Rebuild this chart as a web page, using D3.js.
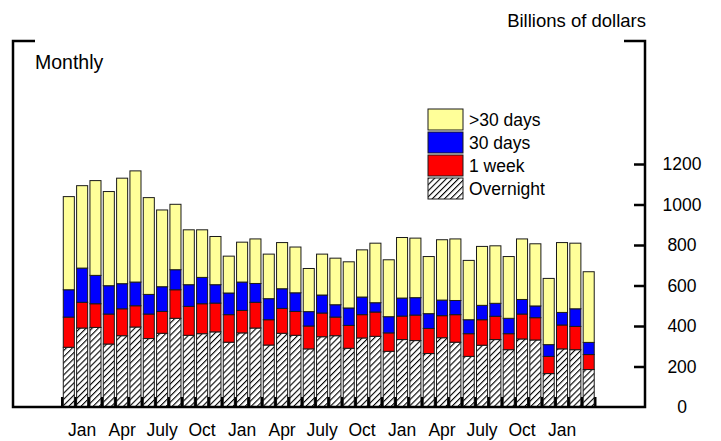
<!DOCTYPE html>
<html lang="en">
<head>
<meta charset="utf-8"/>
<title>Repo by maturity</title>
<script src="https://d3js.org/d3.v7.min.js"></script>
<style>
  body { margin: 0; background: #fff; }
  text { font-family: "Liberation Sans", Arial, Helvetica, sans-serif; fill: #000; }
</style>
</head>
<body>
<script>
// months, Dec of year 0 through Mar of year 4
var months = ["Dec",
  "Jan","Feb","Mar","Apr","May","June","July","Aug","Sep","Oct","Nov","Dec",
  "Jan","Feb","Mar","Apr","May","June","July","Aug","Sep","Oct","Nov","Dec",
  "Jan","Feb","Mar","Apr","May","June","July","Aug","Sep","Oct","Nov","Dec",
  "Jan","Feb","Mar"];

// billions of dollars
var overnight = [295,390,393,311,352,395,338,364,438,354,362,371,320,366,390,306,364,354,287,347,
                 352,290,341,349,275,333,328,264,342,320,250,305,333,283,336,331,165,287,283,185];
var oneWeek   = [149,127,117,148,133,105,121,108,141,143,148,142,136,111,127,125,123,118,113,117,
                 92,113,115,120,91,116,126,124,109,136,112,126,115,79,123,110,85,118,115,74];
var thirtyDays = [135,169,140,140,124,117,97,122,99,107,130,91,107,140,93,104,97,92,71,89,
                  61,86,87,46,80,89,86,73,77,70,69,71,64,76,72,58,58,62,87,60];
var over30    = [460,407,468,465,521,549,478,379,323,271,235,238,182,197,220,220,228,226,213,202,
                 230,228,233,294,281,299,294,282,298,304,293,291,284,305,299,307,327,345,324,349];

var seriesKeys = ["overnight", "oneWeek", "thirtyDays", "over30"];
var seriesNames = {overnight: "Overnight", oneWeek: "1 week", thirtyDays: "30 days", over30: ">30 days"};
var yTicks = [0, 200, 400, 600, 800, 1000, 1200];
var quarterMonths = ["Jan", "Apr", "July", "Oct"];

(function() {
var width = 721, height = 441;
var frameL = 13, frameR = 645, frameT = 41, base = 407;

var svg = d3.select("body").append("svg")
    .attr("width", width)
    .attr("height", height);

var defs = svg.append("defs");
defs.append("pattern")
    .attr("id", "hatch")
    .attr("patternUnits", "userSpaceOnUse")
    .attr("width", 4.3)
    .attr("height", 4.3)
    .attr("patternTransform", "rotate(45)")
  .call(function(p) {
    p.append("rect").attr("width", 4.3).attr("height", 4.3).attr("fill", "#fff");
    p.append("line").attr("x1", 0).attr("y1", 0).attr("x2", 0).attr("y2", 4.3)
      .attr("stroke", "#000").attr("stroke-width", 2.2);
  });

var fills = {overnight: "url(#hatch)", oneWeek: "#ff0000", thirtyDays: "#0000ff", over30: "#ffff99"};

var rows = months.map(function(m, i) {
  return {i: i, month: m, overnight: overnight[i], oneWeek: oneWeek[i],
          thirtyDays: thirtyDays[i], over30: over30[i]};
});

var x = d3.scaleBand()
    .domain(d3.range(months.length))
    .range([62.15, 595.35])
    .paddingInner(0.17)
    .paddingOuter(0.085);

var y = d3.scaleLinear()
    .domain([0, 1200])
    .range([base, 164]);

var stack = d3.stack().keys(seriesKeys)(rows);

// bars
svg.append("g")
  .selectAll("g")
  .data(stack)
  .join("g")
    .attr("fill", function(d) { return fills[d.key]; })
  .selectAll("rect")
  .data(function(d) { return d; })
  .join("rect")
    .attr("x", function(d) { return x(d.data.i); })
    .attr("y", function(d) { return y(d[1]); })
    .attr("width", x.bandwidth())
    .attr("height", function(d) { return y(d[0]) - y(d[1]); })
    .attr("stroke", "#1a1a1a")
    .attr("stroke-width", 1);

// monthly ticks between bars
var step = x.step();
svg.append("g")
  .selectAll("rect")
  .data(d3.range(months.length + 1))
  .join("rect")
    .attr("x", function(i) { return (i < months.length ? x(i) : x(i - 1) + step) - 2.3; })
    .attr("y", base - 10)
    .attr("width", 2.3)
    .attr("height", 10)
    .attr("fill", "#000");

// frame
svg.append("path")
    .attr("fill", "none")
    .attr("stroke", "#000")
    .attr("stroke-width", 2.5)
    .attr("d", "M" + (frameL + 22) + "," + frameT + "H" + frameL + "V" + base +
               "H" + frameR + "V" + frameT + "H" + (frameR - 21));

// right axis ticks
svg.append("g")
    .attr("transform", "translate(" + frameR + ",0)")
    .call(d3.axisLeft(y).tickValues(yTicks.slice(1)).tickSize(11).tickFormat(""))
    .call(function(g) {
      g.select(".domain").remove();
      g.selectAll("line").attr("stroke-width", 2.5);
    });

svg.append("g")
  .selectAll("text")
  .data(yTicks)
  .join("text")
    .attr("x", 682)
    .attr("y", function(d) { return y(d); })
    .attr("dy", "0.36em")
    .attr("text-anchor", "middle")
    .attr("font-size", 17.5)
    .text(function(d) { return d; });

// month labels
svg.append("g")
  .selectAll("text")
  .data(rows.filter(function(d) { return quarterMonths.indexOf(d.month) >= 0; }))
  .join("text")
    .attr("x", function(d) { return x(d.i) + x.bandwidth() / 2; })
    .attr("y", 435.5)
    .attr("text-anchor", "middle")
    .attr("font-size", 17.5)
    .text(function(d) { return d.month; });

svg.append("text")
    .attr("x", 646)
    .attr("y", 27)
    .attr("text-anchor", "end")
    .attr("font-size", 18.5)
    .text("Billions of dollars");

svg.append("text")
    .attr("x", 35)
    .attr("y", 69)
    .attr("font-size", 19.5)
    .text("Monthly");

// legend
var legend = svg.append("g").attr("transform", "translate(428,109)");
var legendItems = legend.selectAll("g")
  .data(seriesKeys.slice().reverse())
  .join("g")
    .attr("transform", function(d, i) { return "translate(0," + (i * 23) + ")"; });
legendItems.append("rect")
    .attr("width", 35)
    .attr("height", 21)
    .attr("fill", function(d) { return fills[d]; })
    .attr("stroke", "#1a1a1a")
    .attr("stroke-width", 1);
legendItems.append("text")
    .attr("x", 41)
    .attr("y", 11)
    .attr("dy", "0.36em")
    .attr("font-size", 17.5)
    .text(function(d) { return seriesNames[d]; });
})();
</script>
</body>
</html>
